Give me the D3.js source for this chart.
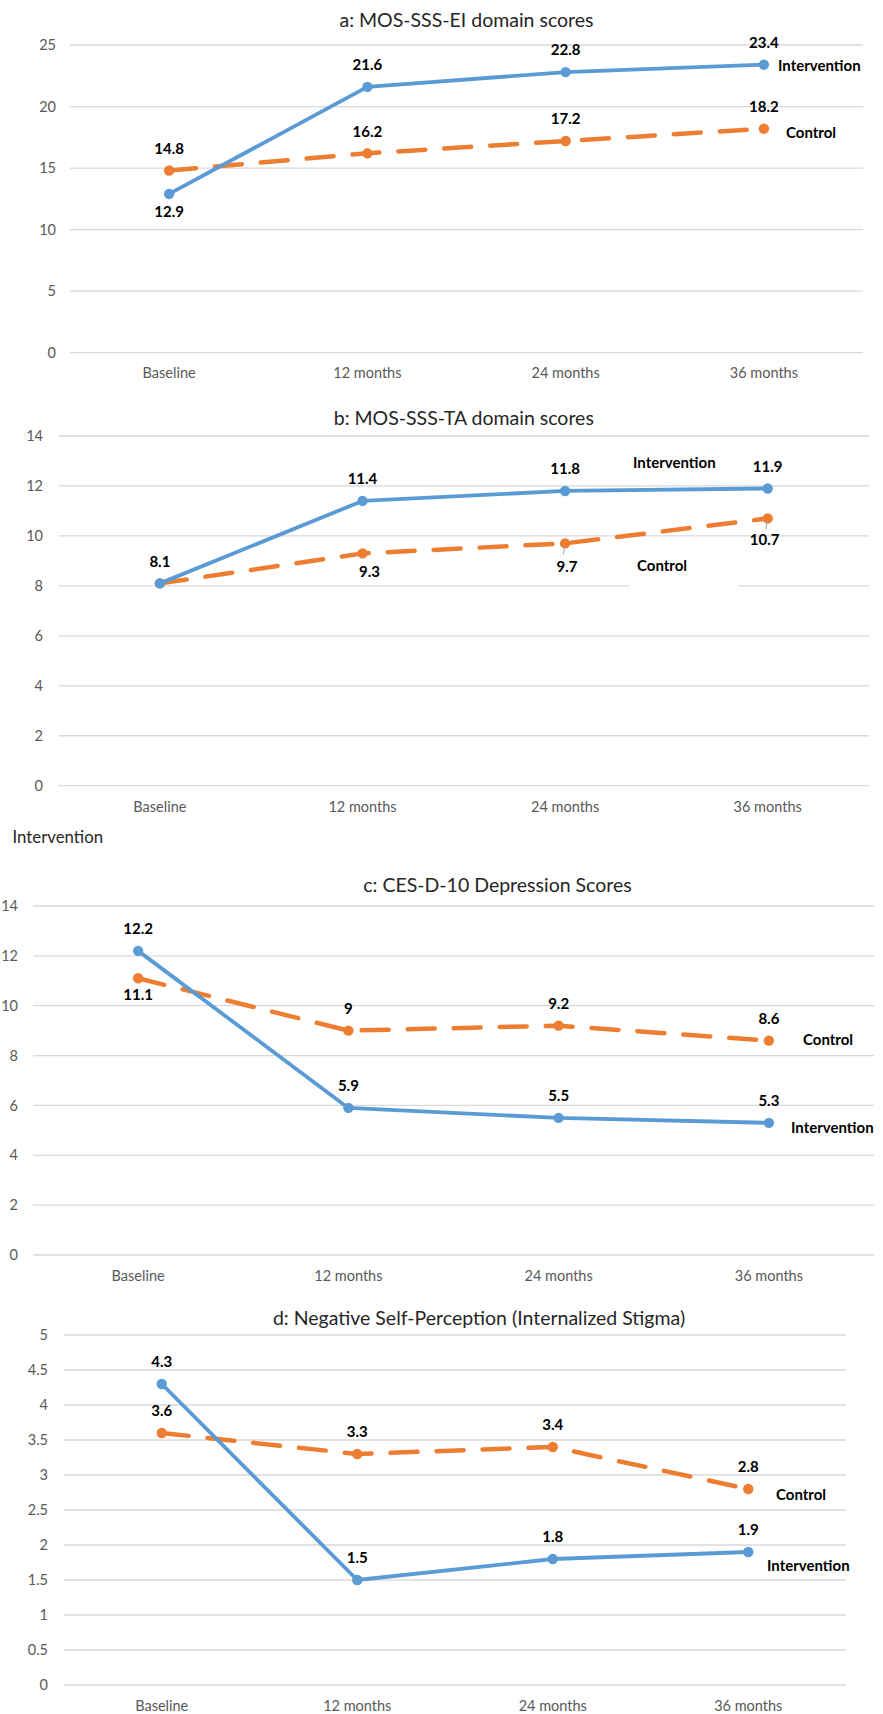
<!DOCTYPE html>
<html>
<head>
<meta charset="utf-8">
<script src="https://cdn.jsdelivr.net/npm/d3@7"></script>
<style>
  html, body { margin: 0; padding: 0; background: #fff; }
  svg { display: block; font-family: Lato, "Open Sans", sans-serif; }
</style>
</head>
<body>
<svg id="chart" width="883" height="1714"></svg>
<script>
// Time points shared by every panel
const timepoints = ["Baseline", "12 months", "24 months", "36 months"];

// a: MOS-SSS-EI
const eiIntervention = [12.9, 21.6, 22.8, 23.4];
const eiControl = [14.8, 16.2, 17.2, 18.2];
// b: MOS-SSS-TA
const taIntervention = [8.1, 11.4, 11.8, 11.9];
const taControl = [8.1, 9.3, 9.7, 10.7];
// c: CES-D-10
const cesIntervention = [12.2, 5.9, 5.5, 5.3];
const cesControl = [11.1, 9, 9.2, 8.6];
// d: Negative self-perception
const nspIntervention = [4.3, 1.5, 1.8, 1.9];
const nspControl = [3.6, 3.3, 3.4, 2.8];

const titles = [
  "a: MOS-SSS-EI domain scores",
  "b: MOS-SSS-TA domain scores",
  "c: CES-D-10 Depression Scores",
  "d: Negative Self-Perception (Internalized Stigma)"
];
const yMaxes = [25, 14, 14, 5];
const ySteps = [5, 2, 2, 0.5];

const BLUE = "#5b9bd5", ORANGE = "#ed7d31";
const LABEL_SIZE = 15, TICK_SIZE = 14.5, TITLE_SIZE = 19.5;

// Per-panel geometry and label placement (dy of value label relative to its point)
const panels = [
  { title: titles[0], yMax: yMaxes[0], step: ySteps[0], inter: eiIntervention, ctrl: eiControl,
    x0: 70, x1: 863, yTop: 45, yBot: 352.7, tickX: 56, xLabY: 373, titleY: 20, titleDx: 0,
    interDy: [18, -22, -22, -22], ctrlDy: [-22, -22, -22, -22],
    interName: [778, 66], ctrlName: [786, 133] },
  { title: titles[1], yMax: yMaxes[1], step: ySteps[1], inter: taIntervention, ctrl: taControl,
    x0: 58.6, x1: 869, yTop: 436, yBot: 785.7, tickX: 43, xLabY: 807, titleY: 418, titleDx: 0,
    interDy: [-21.5, -22, -22, -22], ctrlDy: [null, 18.5, 23, 21], ctrlDx: [0, 7, 2, -3],
    leader: [false, false, true, true],
    interName: [633, 463], ctrlName: [637, 566],
    mask: [629, 548, 109, 44] },
  { title: titles[2], yMax: yMaxes[2], step: ySteps[2], inter: cesIntervention, ctrl: cesControl,
    x0: 33, x1: 874, yTop: 906, yBot: 1255, tickX: 18, xLabY: 1276, titleY: 885, titleDx: 44,
    interDy: [-22, -22, -22, -22], ctrlDy: [16, -22, -22, -22],
    interName: [791, 1128], ctrlName: [803, 1040] },
  { title: titles[3], yMax: yMaxes[3], step: ySteps[3], inter: nspIntervention, ctrl: nspControl,
    x0: 64, x1: 846, yTop: 1335, yBot: 1685, tickX: 48, xLabY: 1706, titleY: 1318, titleDx: 24,
    interDy: [-22, -22, -22, -22], ctrlDy: [-22, -22, -22, -22],
    interName: [767, 1566], ctrlName: [776, 1495] }
];

const svg = d3.select("#chart");

panels.forEach(p => {
  const g = svg.append("g");
  const x = d3.scaleBand().domain(timepoints).range([p.x0, p.x1]);
  const cx = d => x(d) + x.bandwidth() / 2;
  const y = d3.scaleLinear().domain([0, p.yMax]).range([p.yBot, p.yTop]);
  const ticks = d3.range(0, p.yMax + p.step / 2, p.step);

  // Title
  g.append("text")
    .attr("x", (p.x0 + p.x1) / 2 + p.titleDx)
    .attr("y", p.titleY)
    .attr("dy", "0.35em")
    .attr("text-anchor", "middle")
    .attr("font-size", TITLE_SIZE)
    .attr("fill", "#262626")
    .text(p.title);

  // Horizontal gridlines
  g.selectAll(".grid").data(ticks).join("line")
    .attr("x1", p.x0).attr("x2", p.x1)
    .attr("y1", d => y(d)).attr("y2", d => y(d))
    .attr("stroke", "#d9d9d9").attr("stroke-width", 1.3);

  // Y tick labels
  g.selectAll(".ytick").data(ticks).join("text")
    .attr("x", p.tickX).attr("y", d => y(d))
    .attr("dy", "0.35em").attr("text-anchor", "end")
    .attr("font-size", TICK_SIZE).attr("fill", "#595959")
    .text(d => d3.format("~g")(d));

  // X category labels
  g.selectAll(".xtick").data(timepoints).join("text")
    .attr("x", d => cx(d)).attr("y", p.xLabY)
    .attr("dy", "0.35em").attr("text-anchor", "middle")
    .attr("font-size", TICK_SIZE).attr("fill", "#595959")
    .text(d => d);

  // White box behind a data label
  if (p.mask) {
    g.append("rect").attr("x", p.mask[0]).attr("y", p.mask[1])
      .attr("width", p.mask[2]).attr("height", p.mask[3]).attr("fill", "#fff");
  }

  const line = d3.line().x((d, i) => cx(timepoints[i])).y(d => y(d));

  // Control series (dashed)
  g.append("path").datum(p.ctrl)
    .attr("d", line).attr("fill", "none")
    .attr("stroke", ORANGE).attr("stroke-width", 4.5)
    .attr("stroke-dasharray", "27 19").attr("stroke-linecap", "round");
  // Intervention series (solid)
  g.append("path").datum(p.inter)
    .attr("d", line).attr("fill", "none")
    .attr("stroke", BLUE).attr("stroke-width", 3.8)
    .attr("stroke-linejoin", "round");

  [[p.ctrl, ORANGE], [p.inter, BLUE]].forEach(([vals, col]) => {
    g.selectAll(null).data(vals).join("circle")
      .attr("cx", (d, i) => cx(timepoints[i])).attr("cy", d => y(d))
      .attr("r", 5.2).attr("fill", col);
  });

  // Leader lines from labels to points
  if (p.leader) {
    p.ctrl.forEach((v, i) => {
      if (!p.leader[i]) return;
      const px = cx(timepoints[i]), py = y(v);
      g.append("line")
        .attr("x1", px - 0.5).attr("y1", py + 3)
        .attr("x2", px - 2).attr("y2", py + 11)
        .attr("stroke", "#a6a6a6").attr("stroke-width", 1);
    });
  }

  // Value labels
  const valueLabels = (vals, dys, dxs) => {
    g.selectAll(null).data(vals.map((v, i) => ({ v, i })).filter(d => dys[d.i] !== null))
      .join("text")
      .attr("x", d => cx(timepoints[d.i]) + (dxs ? dxs[d.i] : 0))
      .attr("y", d => y(d.v) + dys[d.i])
      .attr("dy", "0.35em").attr("text-anchor", "middle")
      .attr("font-size", LABEL_SIZE).attr("font-weight", "bold").attr("fill", "#000")
      .text(d => d.v);
  };
  valueLabels(p.inter, p.interDy, null);
  valueLabels(p.ctrl, p.ctrlDy, p.ctrlDx);

  // Series names
  g.append("text").attr("x", p.interName[0]).attr("y", p.interName[1])
    .attr("dy", "0.35em").attr("font-size", LABEL_SIZE).attr("font-weight", "bold")
    .attr("fill", "#000").text("Intervention");
  g.append("text").attr("x", p.ctrlName[0]).attr("y", p.ctrlName[1])
    .attr("dy", "0.35em").attr("font-size", LABEL_SIZE).attr("font-weight", "bold")
    .attr("fill", "#000").text("Control");
});

// Loose caption between panels b and c
svg.append("text").attr("x", 12.5).attr("y", 837).attr("dy", "0.35em")
  .attr("font-size", 16.8).attr("fill", "#262626").text("Intervention");
</script>
</body>
</html>
